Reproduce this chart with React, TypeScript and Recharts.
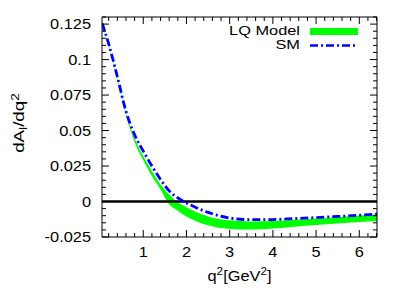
import React from 'react';
import { ComposedChart, Area, Line, XAxis, YAxis, ReferenceLine, Legend, Label } from 'recharts';

const q2 = [0.05, 0.2, 0.4, 0.6, 0.8, 1.0, 1.2, 1.4, 1.6, 1.8, 2.0, 2.25, 2.5, 3.0, 3.5, 4.0, 4.5, 5.0, 5.5, 6.0, 6.41];
const smValues = [0.1255, 0.111, 0.088, 0.0635, 0.047, 0.0355, 0.025, 0.0155, 0.0075, 0.0025, -0.001, -0.0047, -0.0077, -0.0116, -0.0128, -0.0127, -0.012, -0.0113, -0.0105, -0.0096, -0.0088];
const lqLow = [0.1248, 0.1095, 0.0855, 0.061, 0.042, 0.029, 0.018, 0.0085, -0.002, -0.0065, -0.0105, -0.0142, -0.0168, -0.0193, -0.0197, -0.019, -0.0177, -0.0165, -0.0155, -0.0145, -0.0137];
const lqHigh = [0.1255, 0.1105, 0.087, 0.0625, 0.0445, 0.032, 0.0215, 0.012, 0.005, -0.0005, -0.004, -0.0078, -0.0105, -0.0132, -0.014, -0.0137, -0.0128, -0.0119, -0.011, -0.0099, -0.009];

const xMajor = [1, 2, 3, 4, 5, 6];
const xMajorLabels = ['1', '2', '3', '4', '5', '6'];
const yMajor = [-0.025, 0, 0.025, 0.05, 0.075, 0.1, 0.125];
const yMajorLabels = ['-0.025', '0', '0.025', '0.05', '0.075', '0.1', '0.125'];
const legendNames = ['LQ Model', 'SM'];
const xDomain: [number, number] = [0.045, 6.41];
const yDomain: [number, number] = [-0.025, 0.13];

const xTicks = Array.from({ length: 32 }, (_, i) => +((i + 1) * 0.2).toFixed(2));
const yTicks = Array.from({ length: 32 }, (_, i) => +(-0.025 + i * 0.005).toFixed(3));

const data = q2.map((x, i) => ({ q2: x, sm: smValues[i], band: [lqLow[i], lqHigh[i]] }));

const FONT = '"Liberation Sans", Arial, Helvetica, sans-serif';
const SX = 1.17;
const MAJ = 7;
const MIN = 4;

const idxOf = (arr: number[], v: number) => arr.findIndex((m) => Math.abs(m - v) < 1e-9);

function SText({ x, y, anchor = 'start', size = 14, sx = SX, children }: any) {
  return (
    <text transform={`translate(${x},${y}) scale(${sx},1)`} textAnchor={anchor} fontSize={size} fontFamily={FONT} fill="#000">
      {children}
    </text>
  );
}

const YTickLeft = (props: any) => {
  const { x, y, payload } = props;
  const i = idxOf(yMajor, payload.value);
  return (
    <g>
      <line x1={x} x2={x + (i >= 0 ? MAJ : MIN)} y1={y} y2={y} stroke="#000" strokeWidth={1} />
      {i >= 0 && <SText x={x - 11} y={y + 5} anchor="end">{yMajorLabels[i]}</SText>}
    </g>
  );
};

const YTickRight = (props: any) => {
  const { x, y, payload } = props;
  const i = idxOf(yMajor, payload.value);
  return <line x1={x} x2={x - (i >= 0 ? MAJ : MIN)} y1={y} y2={y} stroke="#000" strokeWidth={1} />;
};

const XTickBottom = (props: any) => {
  const { x, y, payload } = props;
  const i = idxOf(xMajor, payload.value);
  return (
    <g>
      <line x1={x} x2={x} y1={y} y2={y - (i >= 0 ? MAJ : MIN)} stroke="#000" strokeWidth={1} />
      {i >= 0 && <SText x={x} y={y + 20} anchor="middle">{xMajorLabels[i]}</SText>}
    </g>
  );
};

const XTickTop = (props: any) => {
  const { x, y, payload } = props;
  const i = idxOf(xMajor, payload.value);
  return <line x1={x} x2={x} y1={y} y2={y + (i >= 0 ? MAJ : MIN)} stroke="#000" strokeWidth={1} />;
};

const XLabel = (props: any) => {
  const vb = props.viewBox || { x: 94, y: 229, width: 275, height: 55 };
  const cx = vb.x + vb.width / 2;
  const cy = vb.y + 44;
  return (
    <SText x={cx} y={cy} anchor="middle">
      q<tspan fontSize={10} dy={-6}>2</tspan>
      <tspan dy={6}>[GeV</tspan>
      <tspan fontSize={10} dy={-6}>2</tspan>
      <tspan dy={6}>]</tspan>
    </SText>
  );
};

const YLabel = (props: any) => {
  const vb = props.viewBox || { x: 0, y: 9, width: 94, height: 220 };
  const cx = vb.x + 16;
  const cy = vb.y + vb.height / 2 - 4;
  return (
    <text transform={`translate(${cx},${cy}) rotate(-90) scale(1.25,1)`} textAnchor="middle" fontSize={15} fontFamily={FONT} fill="#000">
      dA<tspan fontSize={11} dy={3}>l</tspan>
      <tspan dy={-3}>/dq</tspan>
      <tspan fontSize={11} dy={-5}>2</tspan>
    </text>
  );
};

const renderLegend = () => (
  <svg width={170} height={42} style={{ overflow: 'visible', display: 'block' }}>
    <SText x={100} y={15} anchor="end" size={13} sx={1.26}>{legendNames[0]}</SText>
    <rect x={110} y={8} width={48} height={7} fill="#00ff00" />
    <SText x={100} y={29} anchor="end" size={13} sx={1.26}>{legendNames[1]}</SText>
    <line x1={110} x2={158} y1={25.5} y2={25.5} stroke="#0000ff" strokeWidth={2.5} strokeDasharray="8 3 2 3" />
  </svg>
);

export default function App() {
  return (
    <ComposedChart width={393} height={284} data={data} margin={{ top: 0, right: 0, bottom: 0, left: 0 }}>
      <XAxis
        xAxisId="b"
        dataKey="q2"
        type="number"
        domain={xDomain}
        allowDataOverflow
        ticks={xTicks}
        interval={0}
        orientation="bottom"
        height={55}
        tickSize={0}
        tickMargin={0}
        tickLine={false}
        axisLine={{ stroke: '#000', strokeWidth: 1 }}
        tick={(p: any) => <XTickBottom {...p} />}
      >
        <Label content={(p: any) => <XLabel {...p} />} />
      </XAxis>
      <XAxis
        xAxisId="t"
        dataKey="q2"
        type="number"
        domain={xDomain}
        allowDataOverflow
        ticks={xTicks}
        interval={0}
        orientation="top"
        height={9}
        tickSize={0}
        tickMargin={0}
        tickLine={false}
        axisLine={{ stroke: '#000', strokeWidth: 1 }}
        tick={(p: any) => <XTickTop {...p} />}
      />
      <YAxis
        yAxisId="l"
        type="number"
        domain={yDomain}
        allowDataOverflow
        ticks={yTicks}
        interval={0}
        orientation="left"
        width={94}
        tickSize={0}
        tickMargin={0}
        tickLine={false}
        axisLine={{ stroke: '#000', strokeWidth: 1 }}
        tick={(p: any) => <YTickLeft {...p} />}
      >
        <Label content={(p: any) => <YLabel {...p} />} />
      </YAxis>
      <YAxis
        yAxisId="r"
        type="number"
        domain={yDomain}
        allowDataOverflow
        ticks={yTicks}
        interval={0}
        orientation="right"
        width={24}
        tickSize={0}
        tickMargin={0}
        tickLine={false}
        axisLine={{ stroke: '#000', strokeWidth: 1 }}
        tick={(p: any) => <YTickRight {...p} />}
      />
      <Legend
        layout="horizontal"
        verticalAlign="middle"
        align="center"
        content={renderLegend}
        wrapperStyle={{ position: 'absolute', left: 192, top: 12, width: 170, height: 42 }}
      />
      <Area
        xAxisId="b"
        yAxisId="l"
        type="monotone"
        dataKey="band"
        stroke="none"
        fill="#00ff00"
        fillOpacity={1}
        isAnimationActive={false}
        activeDot={false}
      />
      <ReferenceLine xAxisId="b" yAxisId="l" y={0} stroke="#000" strokeWidth={2.5} />
      <Line
        xAxisId="b"
        yAxisId="l"
        type="monotone"
        dataKey="sm"
        stroke="#0000ff"
        strokeWidth={2.8}
        strokeDasharray="8 3 2 3"
        dot={false}
        activeDot={false}
        isAnimationActive={false}
      />
    </ComposedChart>
  );
}
